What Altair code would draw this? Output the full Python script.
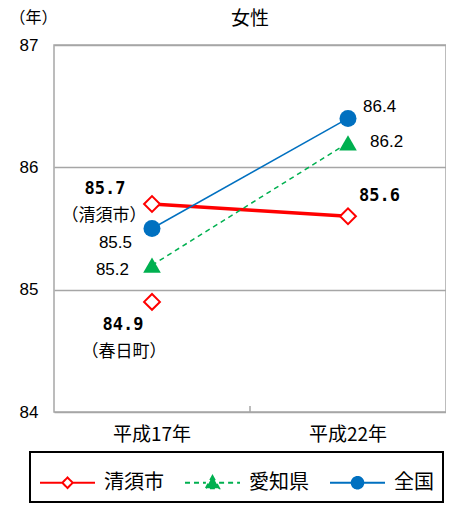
import altair as alt
import pandas as pd

# ---- data ----
years = ["平成17年", "平成22年"]
series_names = ["清須市", "愛知県", "全国"]
kiyosu_values = [85.7, 85.6]
aichi_values = [85.2, 86.2]
zenkoku_values = [85.5, 86.4]
kasuga_name = "春日町"
kasuga_year = "平成17年"
kasuga_value = 84.9
y_ticks = [84, 85, 86, 87]
y_domain = [84, 87]
series_colors = ["#ff0000", "#00b050", "#0070c0"]
chart_title = "女性"
y_unit = "（年）"

rows = []
for name, vals in zip(series_names, [kiyosu_values, aichi_values, zenkoku_values]):
    for yr, v in zip(years, vals):
        rows.append({"series": name, "name": name, "year": yr, "value": v})
df = pd.DataFrame(rows)
df_kasuga = pd.DataFrame([{"series": series_names[0], "name": kasuga_name,
                           "year": kasuga_year, "value": kasuga_value}])

CJK = "Noto Sans CJK JP"
NUM = "Liberation Sans"
BOLD = "DejaVu Sans Mono"
GRID = "#a6a6a6"

W, H = 392, 367

x_scale = alt.Scale(type="band", domain=years, paddingInner=0, paddingOuter=0)
y_scale = alt.Scale(domain=y_domain, nice=False, zero=False)

x_enc = alt.X("year:N", scale=x_scale,
              axis=alt.Axis(title=None, labelAngle=0, domain=False, ticks=False,
                            labelPadding=13, labelFontSize=19, labelFont=CJK,
                            labelColor="black"))
y_enc = alt.Y("value:Q", scale=y_scale,
              axis=alt.Axis(values=y_ticks, format="d", title=y_unit, titleAngle=0, titleX=-21,
                            titleY=-28, titleAlign="center", titleBaseline="middle",
                            titleFont=CJK, titleFontSize=16, titleFontWeight="normal",
                            titleColor="black", grid=True, gridColor=GRID, gridWidth=1.5,
                            domain=False, ticks=False, labelPadding=16, labelFontSize=17,
                            labelFont=NUM, labelColor="black"))

line_styles = {
    "清須市": dict(strokeWidth=3.5),
    "愛知県": dict(strokeWidth=1.5, strokeDash=[5, 4]),
    "全国": dict(strokeWidth=1.5),
}
point_styles = {
    "清須市": dict(shape="diamond", size=250, fill="white", strokeWidth=2),
    "愛知県": dict(shape="triangle-up", size=310, strokeWidth=0),
    "全国": dict(shape="circle", size=289, strokeWidth=0),
}

layers = []
for name, col in zip(series_names, series_colors):
    layers.append(
        alt.Chart(df).transform_filter(alt.datum.series == name)
        .mark_line(color=col, **line_styles[name])
        .encode(x=x_enc, y=y_enc)
    )

# middle category-boundary tick at the bottom
tick_df = pd.DataFrame({"year": [years[0]]})
layers.append(
    alt.Chart(tick_df).mark_rule(color=GRID, strokeWidth=1.5).encode(
        x=alt.X("year:N", bandPosition=1, scale=x_scale),
        y=alt.datum(y_domain[0]), y2=alt.datum(y_domain[0] + 0.05))
)

for name, col in zip(series_names, series_colors):
    st = dict(point_styles[name])
    if "fill" not in st:
        st["fill"] = col
    layers.append(
        alt.Chart(df).transform_filter(alt.datum.series == name)
        .mark_point(stroke=col, opacity=1, fillOpacity=1, **st)
        .encode(x=x_enc, y=y_enc)
    )
layers.append(
    alt.Chart(df_kasuga).mark_point(stroke=series_colors[0], opacity=1, fillOpacity=1,
                                    **point_styles[series_names[0]])
    .encode(x=x_enc, y=y_enc)
)

# ---- value labels ----
def num_label(src, series, year, dx, dy, align, bold=False):
    if bold:
        mk = dict(font=BOLD, fontSize=17, fontWeight="bold")
    else:
        mk = dict(font=NUM, fontSize=17, fontWeight="normal")
    return (alt.Chart(src)
            .transform_filter((alt.datum.series == series) & (alt.datum.year == year))
            .mark_text(dx=dx, dy=dy, align=align, baseline="middle", color="black", **mk)
            .encode(x=x_enc, y=y_enc, text=alt.Text("value:Q", format=".1f")))

def name_label(src, series, year, dx, dy):
    return (alt.Chart(src)
            .transform_filter((alt.datum.series == series) & (alt.datum.year == year))
            .transform_calculate(lbl="'（' + datum.name + '）'")
            .mark_text(dx=dx, dy=dy, align="center", baseline="middle", color="black",
                       font=CJK, fontSize=17)
            .encode(x=x_enc, y=y_enc, text="lbl:N"))

layers += [
    num_label(df, "清須市", years[0], -47, -15, "center", bold=True),
    name_label(df, "清須市", years[0], -48, 12),
    num_label(df, "全国", years[0], -20, 14, "right"),
    num_label(df, "愛知県", years[0], -23, 5, "right"),
    num_label(df_kasuga, "清須市", kasuga_year, -29, 23, "center", bold=True),
    name_label(df_kasuga, "清須市", kasuga_year, -28, 50),
    num_label(df, "清須市", years[1], 11, -20, "left", bold=True),
    num_label(df, "全国", years[1], 15, -11, "left"),
    num_label(df, "愛知県", years[1], 22, -1, "left"),
]

# ---- legend (native legend, driven by a clipped invisible layer) ----
legend_paths = [
    "M-1,0H-0.19M0.19,0H1M0,-0.19L0.19,0L0,0.19L-0.19,0Z",
    "M-1,0H-0.24M0.24,0H1M0,-0.24L0.24,0.2L-0.24,0.2Z",
    "M-1,0H1M0.21,0A0.21,0.21 0 1,1 -0.21,0A0.21,0.21 0 1,1 0.21,0Z",
]
leg = alt.Legend(title=" ", titleFontSize=10, titlePadding=2, orient="none",
                 legendX=-24, legendY=407, direction="horizontal", padding=9,
                 strokeColor="black", symbolSize=3025, symbolStrokeWidth=2,
                 clipHeight=19,
                 symbolOpacity=1, labelFont=CJK, labelFontSize=20, labelColor="black",
                 labelOffset=8, columnPadding=20)
legend_df = pd.DataFrame({"series": series_names, "year": [years[0]] * 3,
                          "value": [y_domain[0] - 1] * 3})
layers.append(
    alt.Chart(legend_df).mark_point(clip=True, filled=False, opacity=1).encode(
        x=x_enc, y=y_enc,
        color=alt.Color("series:N", scale=alt.Scale(domain=series_names, range=series_colors), legend=leg),
        fill=alt.Fill("series:N", scale=alt.Scale(domain=series_names,
                                                  range=["white", series_colors[1], series_colors[2]]), legend=leg),
        shape=alt.Shape("series:N", scale=alt.Scale(domain=series_names, range=legend_paths), legend=leg),
        strokeDash=alt.StrokeDash("series:N", scale=alt.Scale(domain=series_names,
                                                              range=[[1, 0], [5, 4], [1, 0]]), legend=leg),
    )
)

chart = (
    alt.layer(*layers)
    .properties(width=W, height=H, padding={"top": 1, "left": 0, "right": 0, "bottom": 0},
                title=alt.Title(chart_title, fontSize=19, font=CJK, fontWeight="normal",
                                color="black", frame="group", anchor="middle",
                                baseline="bottom", offset=-15, dy=24))
    .configure_view(stroke=GRID, strokeWidth=1.5)
    .configure_legend(strokeWidth=2)
)

chart.save("out.html", embed_options={"renderer": "svg", "actions": False})
